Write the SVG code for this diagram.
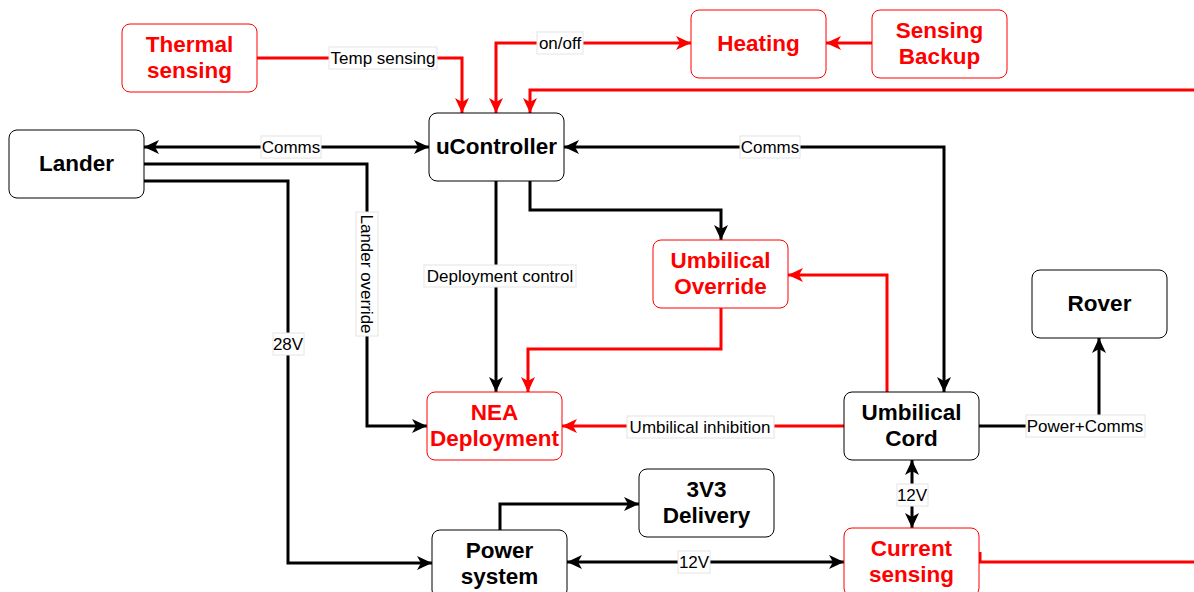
<svg xmlns="http://www.w3.org/2000/svg" width="1194" height="592" viewBox="0 0 1194 592">
<style>
.box{fill:#fff;stroke:#000;stroke-width:1}
.rbox{fill:#fff;stroke:#ff0000;stroke-width:1}
.t{font-family:"Liberation Sans",Arial,sans-serif;font-weight:bold;font-size:22.5px;text-anchor:middle;fill:#000}
.rt{font-family:"Liberation Sans",Arial,sans-serif;font-weight:bold;font-size:22.5px;text-anchor:middle;fill:#ff0000}
.k{fill:none;stroke:#000;stroke-width:3}
.r{fill:none;stroke:#ff0000;stroke-width:3}
.lb{fill:#fff;stroke:#e4e4e4;stroke-width:1}
.lt{font-family:"Liberation Sans",Arial,sans-serif;font-size:17px;text-anchor:middle;fill:#000}
</style>
<defs>
<marker id="ab" viewBox="0 0 15 14" refX="15" refY="7" markerWidth="15" markerHeight="14" markerUnits="userSpaceOnUse" orient="auto-start-reverse"><path d="M0,0 L15,7 L0,14 L4,7 Z" fill="#000"/></marker>
<marker id="ar" viewBox="0 0 15 14" refX="15" refY="7" markerWidth="15" markerHeight="14" markerUnits="userSpaceOnUse" orient="auto-start-reverse"><path d="M0,0 L15,7 L0,14 L4,7 Z" fill="#ff0000"/></marker>
</defs>
<g id="connectors">
<path class="r" d="M257,58 H462 V113" marker-end="url(#ar)"/>
<path class="r" d="M496,113 V43 H691" marker-start="url(#ar)" marker-end="url(#ar)"/>
<path class="r" d="M872,43 H826" marker-end="url(#ar)"/>
<path class="r" d="M980,552 V562 H1210 V90 H530 V113" marker-end="url(#ar)"/>
<path class="k" d="M144,147 H429" marker-start="url(#ab)" marker-end="url(#ab)"/>
<path class="k" d="M144,164 H367 V426 H427" marker-end="url(#ab)"/>
<path class="k" d="M144,181 H288 V563 H432" marker-end="url(#ab)"/>
<path class="k" d="M496,181 V392" marker-end="url(#ab)"/>
<path class="k" d="M530,181 V210 H721 V240" marker-end="url(#ab)"/>
<path class="r" d="M721,308 V349 H528 V392" marker-end="url(#ar)"/>
<path class="k" d="M564,147 H944 V392" marker-start="url(#ab)" marker-end="url(#ab)"/>
<path class="r" d="M887,392 V275 H788" marker-end="url(#ar)"/>
<path class="r" d="M844,426 H562" marker-end="url(#ar)"/>
<path class="k" d="M979,426 H1099 V338" marker-end="url(#ab)"/>
<path class="k" d="M912,460 V528" marker-start="url(#ab)" marker-end="url(#ab)"/>
<path class="k" d="M500,530 V504 H639" marker-end="url(#ab)"/>
<path class="k" d="M567,562 H844" marker-start="url(#ab)" marker-end="url(#ab)"/>
<rect class="lb" x="329" y="47" width="108" height="22"/><text class="lt" x="383" y="64">Temp sensing</text>
<rect class="lb" x="537" y="32" width="46" height="22"/><text class="lt" x="560" y="49">on/off</text>
<rect class="lb" x="261" y="136" width="60" height="22"/><text class="lt" x="291" y="153">Comms</text>
<rect class="lb" x="740" y="136" width="60" height="22"/><text class="lt" x="770" y="153">Comms</text>
<g transform="translate(367,274) rotate(90)"><rect class="lb" x="-62" y="-11" width="124" height="22"/><text class="lt" x="0" y="6">Lander override</text></g>
<rect class="lb" x="273" y="333" width="31" height="22"/><text class="lt" x="288" y="350">28V</text>
<rect class="lb" x="424" y="265" width="152" height="22"/><text class="lt" x="500" y="282">Deployment control</text>
<rect class="lb" x="627" y="416" width="147" height="22"/><text class="lt" x="700" y="433">Umbilical inhibition</text>
<rect class="lb" x="1026" y="415" width="119" height="22"/><text class="lt" x="1085" y="432">Power+Comms</text>
<rect class="lb" x="897" y="484" width="31" height="22"/><text class="lt" x="912" y="501">12V</text>
<rect class="lb" x="678" y="551" width="32" height="22"/><text class="lt" x="694" y="568">12V</text>
</g>
<g id="thermal"><rect class="rbox" x="122" y="24" width="135" height="68" rx="8"/><text class="rt" x="189.5" y="52">Thermal<tspan x="189.5" dy="26">sensing</tspan></text></g>
<g id="heating"><rect class="rbox" x="691" y="10" width="135" height="68" rx="8"/><text class="rt" x="758.5" y="51">Heating</text></g>
<g id="backup"><rect class="rbox" x="872" y="10" width="135" height="68" rx="8"/><text class="rt" x="939.5" y="38">Sensing<tspan x="939.5" dy="26">Backup</tspan></text></g>
<g id="lander"><rect class="box" x="9" y="130" width="135" height="68" rx="8"/><text class="t" x="76.5" y="171">Lander</text></g>
<g id="ucontroller"><rect class="box" x="429" y="113" width="135" height="68" rx="8"/><text class="t" x="496.5" y="154">uController</text></g>
<g id="override"><rect class="rbox" x="653" y="240" width="135" height="68" rx="8"/><text class="rt" x="720.5" y="268">Umbilical<tspan x="720.5" dy="26">Override</tspan></text></g>
<g id="rover"><rect class="box" x="1032" y="270" width="135" height="68" rx="8"/><text class="t" x="1099.5" y="311">Rover</text></g>
<g id="nea"><rect class="rbox" x="427" y="392" width="135" height="68" rx="8"/><text class="rt" x="494.5" y="420">NEA<tspan x="494.5" dy="26">Deployment</tspan></text></g>
<g id="cord"><rect class="box" x="844" y="392" width="135" height="68" rx="8"/><text class="t" x="911.5" y="420">Umbilical<tspan x="911.5" dy="26">Cord</tspan></text></g>
<g id="v33"><rect class="box" x="639" y="469" width="135" height="68" rx="8"/><text class="t" x="706.5" y="497">3V3<tspan x="706.5" dy="26">Delivery</tspan></text></g>
<g id="power"><rect class="box" x="432" y="530" width="135" height="68" rx="8"/><text class="t" x="499.5" y="558">Power<tspan x="499.5" dy="26">system</tspan></text></g>
<g id="current"><rect class="rbox" x="844" y="528" width="135" height="68" rx="8"/><text class="rt" x="911.5" y="556">Current<tspan x="911.5" dy="26">sensing</tspan></text></g>
</svg>
